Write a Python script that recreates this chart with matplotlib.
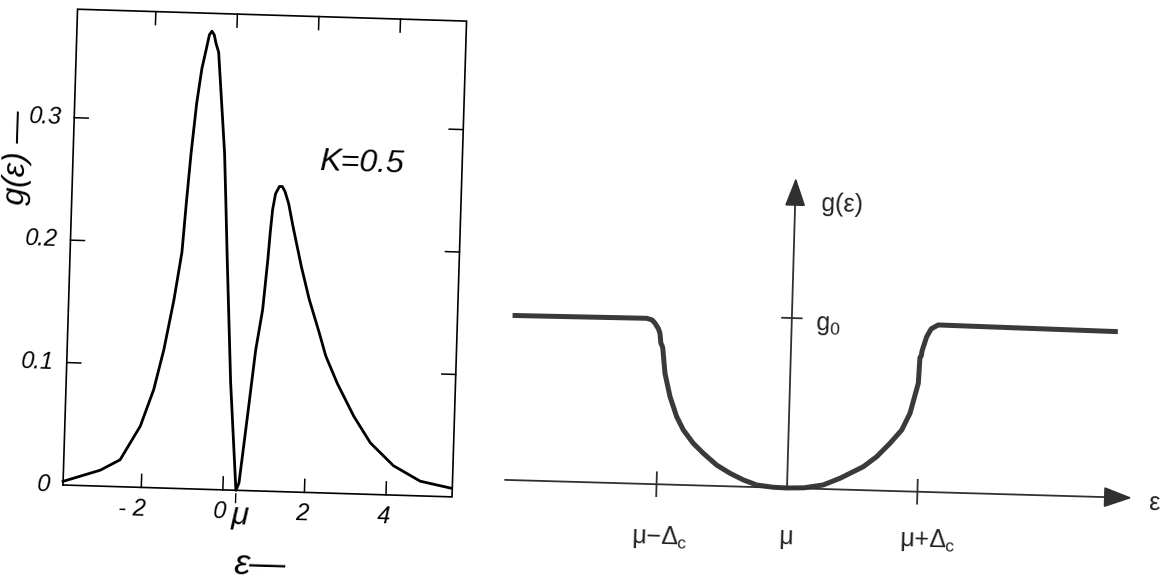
import matplotlib
matplotlib.use("Agg")
import matplotlib.pyplot as plt
from matplotlib.transforms import Affine2D

plt.rcParams["font.family"] = ["Liberation Sans", "DejaVu Sans"]
plt.rcParams["mathtext.fontset"] = "custom"
plt.rcParams["mathtext.rm"] = "Liberation Sans"
plt.rcParams["mathtext.it"] = "Liberation Sans:italic"

# ---- left panel: computed density of states g(eps) for K = 0.5 ----
energy = [-3.92, -3.02, -2.54, -2.07, -1.77, -1.55, -1.34, -1.18, -1.11,
          -1.03, -0.93, -0.83, -0.72, -0.67, -0.61, -0.55, -0.50, -0.43,
          -0.32, -0.21, -0.14, -0.07, 0.11, 0.32, 0.39, 0.54, 0.70, 0.84,
          0.93, 0.97, 1.01, 1.07, 1.16, 1.23, 1.30, 1.40, 1.52, 1.75, 1.97,
          2.24, 2.42, 2.72, 3.15, 3.58, 4.16, 4.83, 5.60]
dos = [0.003, 0.013, 0.022, 0.050, 0.080, 0.113, 0.154, 0.193, 0.233,
       0.274, 0.315, 0.343, 0.362, 0.371, 0.374, 0.371, 0.364, 0.357,
       0.316, 0.275, 0.234, 0.191, 0.088, 0.000, 0.006, 0.058, 0.115, 0.148,
       0.189, 0.212, 0.230, 0.243, 0.249, 0.249, 0.245, 0.235, 0.217, 0.185,
       0.158, 0.131, 0.112, 0.090, 0.0635, 0.042, 0.024, 0.012, 0.007]
mu = 0.32
x_ticks = [-2, 0, 2, 4]
x_tick_labels = ["- 2", "0", "2", "4"]
y_ticks = [0.1, 0.2, 0.3]
y_tick_labels = ["0.1", "0.2", "0.3"]

# ---- right panel: Coulomb gap sketch (eps in units of Delta_c, g in units of g0) ----
sketch_eps = [-2.14, -1.112, -1.07, -1.047, -1.02, -1.007, -0.998, -0.988,
              -0.982, -0.960, -0.916, -0.861, -0.807, -0.728, -0.649, -0.544,
              -0.44, -0.336, -0.233, -0.105, 0.0, 0.13, 0.277, 0.404, 0.58,
              0.68, 0.779, 0.866, 0.926, 0.983, 0.99, 1.0, 1.005, 1.037, 1.07,
              1.123, 2.50]
sketch_g = [0.968, 0.974, 0.965, 0.946, 0.915, 0.888, 0.83, 0.815,
            0.80, 0.654, 0.517, 0.401, 0.324, 0.247, 0.190, 0.123,
            0.077, 0.040, 0.0125, 0.002, 0.0, 0.004, 0.024, 0.066, 0.138,
            0.199, 0.280, 0.36, 0.46, 0.638, 0.79, 0.80, 0.83, 0.913, 0.96,
            0.984, 0.975]
eps_axis = [-2.162, 2.645]
g_axis_top = 1.825
gap_ticks = [-1.0, 1.0]
gap_labels = [r"$\mathregular{μ{-}Δ_c}$", "μ", r"$\mathregular{μ{+}Δ_c}$"]
gap_label_pos = [(-0.962, -0.31), (0.003, -0.288), (1.091, -0.282)]

W, H = 1171, 582
fig = plt.figure(figsize=(W / 100, H / 100), dpi=100)

# ---------------- left panel (slightly tilted page) ----------------
tilt_left = -1.75
x0, x1, ymax = -3.92, 5.62, 0.3886
ax = fig.add_axes([63 / W, 1 - 485 / H, 389.2 / W, 476 / H])
ax.set_xlim(x0, x1)
ax.set_ylim(0, ymax)
ax.axis("off")
rot = ax.transData + Affine2D().rotate_deg_around(63, H - 485, tilt_left)

kw = dict(color="black", transform=rot, clip_on=False)
ax.plot([x0, x1, x1, x0, x0], [0, 0, ymax, ymax, 0], lw=1.2,
        solid_joinstyle="miter", **kw)
tx = 0.0106          # x-tick length in g units
ty = 0.343           # y-tick length in eps units
for t in x_ticks:
    ax.plot([t, t], [0, tx], lw=1.1, **kw)
    ax.plot([t, t], [ymax - tx, ymax], lw=1.1, **kw)
for t in y_ticks:
    ax.plot([x0, x0 + ty], [t, t], lw=1.1, **kw)
    ax.plot([x1 - ty, x1], [t, t], lw=1.1, **kw)
ax.plot([mu, mu], [-0.003, -0.010], lw=1.0, **kw)

ax.plot(energy, dos, lw=2.0, solid_joinstyle="round", **kw)

tkw = dict(transform=rot, fontstyle="italic", rotation=tilt_left,
           rotation_mode="anchor", va="center")
for t, lab in zip(x_ticks, x_tick_labels):
    dx = -0.22 if lab.startswith("-") else -0.05
    ax.text(t + dx, -0.0175, lab, fontsize=17, ha="center", **tkw)
ax.text(-4.22, 0.0, "0", fontsize=17, ha="right", **tkw)
for t, lab in zip(y_ticks, y_tick_labels):
    ax.text(-4.22, t, lab, fontsize=17, ha="right", **tkw)
ax.text(mu + 0.12, -0.021, "μ", fontsize=23, ha="center", **tkw)
ax.text(3.16, 0.270, "K=0.5", fontsize=23, ha="center", **tkw)
ax.text(0.965, -0.0604, "ε—", fontsize=26, ha="center", **tkw)
ax.text(-5.28, 0.266, "g(ε) —", fontsize=23, ha="center",
        transform=rot, fontstyle="italic",
        rotation=90 + tilt_left, rotation_mode="anchor", va="center")

# ---------------- right panel: schematic ----------------
tilt_right = -1.644
axr = fig.add_axes([490 / W, 0, 681 / W, 432 / H])
axr.set_xlim(-2.276, 2.943)
axr.set_ylim(-0.553, 1.988)
axr.axis("off")
rotr = axr.transData + Affine2D().rotate_deg_around(787, H - 488, tilt_right)

ink = "#303030"
arrow = dict(arrowstyle="-|>,head_length=0.55,head_width=0.2",
             mutation_scale=32, lw=1.3, color=ink, shrinkA=0, shrinkB=0)
axr.annotate("", xy=(eps_axis[1], 0), xytext=(eps_axis[0], 0),
             xycoords=rotr, textcoords=rotr, arrowprops=arrow)
axr.annotate("", xy=(0, g_axis_top), xytext=(0, 0),
             xycoords=rotr, textcoords=rotr, arrowprops=arrow)
for t in gap_ticks:
    axr.plot([t, t], [-0.07, 0.07], color=ink, lw=1.3, transform=rotr,
             clip_on=False)
axr.plot([-0.075, 0.075], [1.0, 1.0], color=ink, lw=1.3, transform=rotr,
         clip_on=False)
axr.plot(sketch_eps, sketch_g, color="#3a3a3a", lw=3.6, transform=rotr,
         solid_joinstyle="round", solid_capstyle="butt", clip_on=False)

rkw = dict(transform=rotr, color="#222222", rotation=tilt_right,
           rotation_mode="anchor", va="center")
axr.text(0.357, 1.673, "g(ε)", fontsize=18, ha="center", **rkw)
axr.text(0.18, 0.965, r"$\mathregular{g_0}$", fontsize=18, ha="left", **rkw)
axr.text(2.814, -0.026, "ε", fontsize=18, ha="center", **rkw)
for lab, (x, y) in zip(gap_labels, gap_label_pos):
    axr.text(x, y, lab, fontsize=18, ha="center", **rkw)

fig.savefig("out.png", dpi=100)
